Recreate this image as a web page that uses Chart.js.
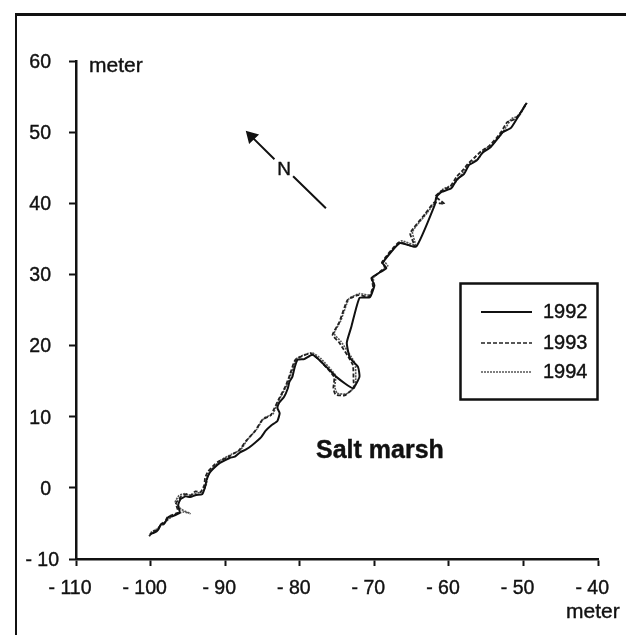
<!DOCTYPE html>
<html>
<head>
<meta charset="utf-8">
<script src="https://cdn.jsdelivr.net/npm/chart.js@4"></script>
<style>
  html, body { margin: 0; padding: 0; background: #fff; overflow: hidden; }
  #frame { position: absolute; left: 15px; top: 13px; right: 0; bottom: 0; border-left: 2px solid #111; border-top: 3px solid #111; }
  canvas { position: absolute; left: 0; top: 0; }
</style>
</head>
<body>
<div id="frame"></div>
<canvas id="chart" width="626" height="635"></canvas>
<script>
const xTicks = [-110, -100, -90, -80, -70, -60, -50, -40]
const yTicks = [-10, 0, 10, 20, 30, 40, 50, 60]

const x1992 = [-100.1,-99.5,-99.0,-98.6,-98.1,-97.6,-97.1,-96.1,-96.3,-96.0,-95.3,-94.7,-93.9,-93.1,-92.7,-92.5,-92.1,-91.4,-90.7,-89.4,-88.7,-88.0,-87.2,-86.4,-85.2,-84.6,-83.8,-83.0,-82.7,-83.0,-82.8,-82.1,-81.6,-81.4,-81.0,-80.7,-80.3,-79.4,-78.3,-77.1,-75.1,-72.9,-72.0,-72.2,-73.3,-73.7,-73.1,-72.0,-70.6,-70.0,-70.4,-68.4,-68.9,-66.6,-64.4,-61.9,-61.7,-61.0,-59.7,-58.9,-58.0,-57.3,-56.3,-55.5,-54.4,-53.4,-52.8,-51.7,-50.9,-49.6]
const y1992 = [-6.5,-6.3,-5.9,-5.1,-4.9,-4.1,-4.0,-3.5,-2.4,-1.6,-1.2,-1.3,-1.0,-0.9,0.1,1.1,2.1,2.9,3.5,4.2,4.4,5.0,5.4,6.0,7.1,8.0,8.8,9.4,10.5,11.2,11.9,12.8,14.0,14.9,15.6,16.9,18.0,18.1,18.7,17.7,15.6,14.0,15.6,17.0,18.3,20.4,22.6,26.7,26.8,28.5,29.5,30.9,31.6,34.4,33.9,39.8,40.9,41.6,42.1,43.4,44.1,45.4,46.0,47.1,47.9,49.2,50.0,50.6,51.9,54.1]

const x1993 = [-100.2,-99.6,-99.2,-98.7,-98.2,-97.8,-97.3,-96.3,-96.6,-95.9,-95.2,-94.7,-94.0,-93.3,-92.8,-92.7,-92.3,-91.5,-90.9,-89.5,-88.9,-88.2,-87.2,-86.0,-85.0,-83.9,-83.4,-82.9,-81.9,-81.3,-80.6,-78.6,-77.4,-75.4,-75.5,-75.2,-74.0,-72.8,-72.8,-72.9,-74.7,-75.6,-74.7,-73.6,-72.2,-70.7,-70.2,-70.3,-68.6,-69.0,-66.7,-64.6,-65.2,-63.2,-62.0,-60.6,-61.8,-60.9,-59.8,-59.0,-58.2,-57.5,-56.6,-55.7,-54.7,-53.7,-52.9,-52.2,-51.2,-50.3,-49.7]
const y1993 = [-6.8,-6.1,-6.0,-5.3,-5.1,-4.2,-3.9,-3.4,-2.2,-1.2,-0.9,-1.1,-0.5,-0.6,0.4,1.4,2.3,3.2,3.7,4.4,4.8,5.2,6.6,8.0,9.6,10.2,11.2,12.3,14.3,16.0,18.0,18.9,18.0,15.6,14.0,13.1,13.0,14.0,15.2,17.3,20.4,21.5,23.3,26.4,27.1,26.9,28.3,29.4,31.0,31.7,34.5,33.9,35.8,38.5,40.1,39.9,41.0,41.8,42.4,43.7,44.6,45.5,46.4,47.3,48.0,49.1,50.2,51.4,51.8,52.9,54.0]

const x1994 = [-100.0,-99.4,-98.9,-98.4,-97.9,-96.9,-95.6,-94.7,-95.9,-96.7,-96.2,-95.4,-94.9,-93.0,-92.5,-92.4,-91.9,-91.2,-90.6,-89.2,-87.9,-87.0,-85.8,-84.8,-83.6,-83.2,-82.7,-81.7,-81.1,-80.4,-78.4,-77.2,-75.2,-75.3,-75.0,-73.8,-72.6,-72.5,-72.6,-74.5,-75.4,-74.5,-73.4,-72.0,-70.5,-70.1,-70.1,-68.2,-68.7,-66.4,-64.5,-64.9,-62.9,-61.8,-61.5,-60.8,-59.5,-58.7,-57.9,-57.2,-56.1,-55.3,-54.2,-53.2,-52.4,-51.6,-50.6,-49.5]
const y1994 = [-6.3,-5.9,-5.7,-4.9,-4.7,-3.8,-3.4,-3.6,-3.0,-2.0,-1.1,-0.8,-1.0,-0.5,0.6,1.5,2.5,3.3,3.9,4.7,5.4,6.8,8.2,9.8,10.4,11.4,12.5,14.5,16.2,18.2,19.0,18.2,15.8,14.2,13.3,13.2,14.2,15.4,17.5,20.6,21.7,23.5,26.6,27.3,27.1,28.5,29.6,31.2,31.9,34.7,34.1,36.0,38.7,40.3,41.2,42.0,42.6,43.5,44.7,45.7,46.2,47.5,48.3,49.4,50.6,51.9,52.3,54.2]

const northX = [-76.5, -80.9, null, -83.4, -86.5]
const northY = [39.3, 43.8, null, 46.2, 49.4]

const years = ['1992', '1993', '1994']

const toPoints = (xs, ys) => xs.map((x, i) => ({ x: x === null ? xs[i - 1] : x, y: ys[i] }))

const fontFamily = '"Liberation Sans", Arial, sans-serif'

function drawText(ctx, text, x, y, font, align) {
  ctx.font = font
  ctx.fillStyle = '#111'
  ctx.strokeStyle = '#111'
  ctx.lineWidth = 0.4
  ctx.setLineDash([])
  ctx.textAlign = align || 'left'
  ctx.textBaseline = 'middle'
  ctx.fillText(text, x, y)
  ctx.strokeText(text, x, y)
}

// frame text, legend box and the north label, nothing the scales can do themselves
const extras = {
  id: 'extras',
  afterDraw(chart) {
    const ctx = chart.ctx
    const yScale = chart.scales.y
    const plain = `19.5px ${fontFamily}`
    ctx.save()
    drawText(ctx, '- 10', 59, yScale.getPixelForValue(-10) + 2, plain, 'right')
    drawText(ctx, 'meter', 89, 66, `21px ${fontFamily}`)
    drawText(ctx, 'meter', 566, 612, `21px ${fontFamily}`)
    drawText(ctx, 'Salt marsh', 316, 451, `bold 25px ${fontFamily}`)
    drawText(ctx, 'N', 284, 170, `19px ${fontFamily}`, 'center')

    ctx.strokeStyle = '#111'
    ctx.lineWidth = 2.5
    ctx.strokeRect(460.5, 283.5, 137, 116)
    const rows = [312, 343, 372]
    years.forEach((year, i) => {
      const ds = chart.data.datasets[i]
      ctx.beginPath()
      ctx.setLineDash(ds.borderDash || [])
      ctx.strokeStyle = ds.borderColor
      ctx.lineWidth = i === 0 ? 2 : 1.6
      ctx.moveTo(481, rows[i])
      ctx.lineTo(532, rows[i])
      ctx.stroke()
      drawText(ctx, year, 543, rows[i], `20px ${fontFamily}`)
    })
    ctx.restore()
  }
}

const line = (label, xs, ys, color, width, dash) => ({
  label: label,
  data: toPoints(xs, ys),
  borderColor: color,
  borderWidth: width,
  borderDash: dash,
  pointRadius: 0,
  showLine: true,
  tension: 0.15
})

new Chart(document.getElementById('chart').getContext('2d'), {
  type: 'scatter',
  data: {
    datasets: [
      line(years[0], x1992, y1992, '#111', 2, []),
      line(years[1], x1993, y1993, '#222', 1.8, [4, 2]),
      line(years[2], x1994, y1994, '#555', 1.6, [2, 1]),
      {
        label: 'N',
        data: toPoints(northX, northY),
        borderColor: '#111',
        backgroundColor: '#111',
        borderWidth: 2,
        showLine: true,
        pointStyle: 'triangle',
        pointRotation: -44,
        pointRadius: [0, 0, 0, 0, 6]
      }
    ]
  },
  options: {
    responsive: false,
    animation: false,
    layout: { padding: { top: 61, right: 27, left: 0, bottom: 0 } },
    plugins: { legend: { display: false }, tooltip: { enabled: false } },
    scales: {
      x: {
        type: 'linear',
        min: xTicks[0],
        max: xTicks[xTicks.length - 1],
        afterBuildTicks: (axis) => { axis.ticks = xTicks.map((v) => ({ value: v })) },
        afterFit: (axis) => { axis.height = 76 },
        border: { color: '#111', width: 2.5 },
        grid: { drawOnChartArea: false, tickLength: 7, tickColor: '#111', tickWidth: 2 },
        ticks: {
          color: '#111',
          font: { family: fontFamily, size: 19.5 },
          textStrokeColor: '#111',
          textStrokeWidth: 0.4,
          padding: 11,
          labelOffset: -6,
          maxRotation: 0,
          autoSkip: false,
          callback: (v) => (v < 0 ? '- ' + (-v) : '' + v)
        }
      },
      y: {
        type: 'linear',
        min: yTicks[0],
        max: yTicks[yTicks.length - 1],
        afterBuildTicks: (axis) => { axis.ticks = yTicks.map((v) => ({ value: v })) },
        afterFit: (axis) => { axis.width = 76 },
        border: { color: '#111', width: 2.5 },
        grid: { drawOnChartArea: false, tickLength: 7, tickColor: '#111', tickWidth: 2 },
        ticks: {
          color: '#111',
          font: { family: fontFamily, size: 19.5 },
          textStrokeColor: '#111',
          textStrokeWidth: 0.4,
          padding: 18,
          labelOffset: 1.5,
          autoSkip: false,
          callback: (v) => (v < 0 ? '' : '' + v)
        }
      }
    }
  },
  plugins: [extras]
})
</script>
</body>
</html>
